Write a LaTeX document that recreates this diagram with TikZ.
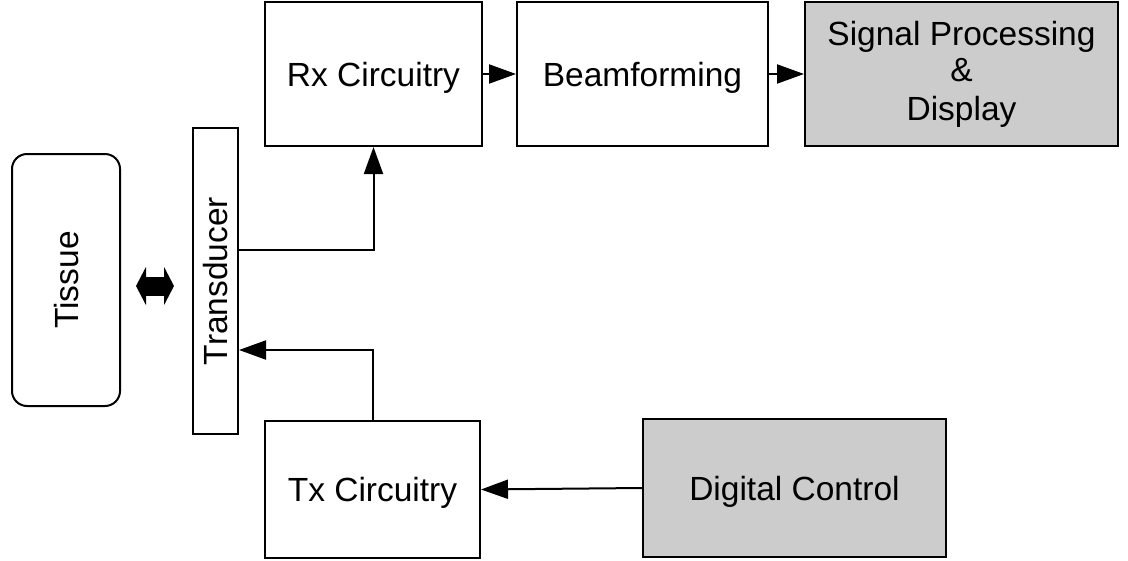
\documentclass[tikz,border=0pt]{standalone}
\usepackage{fontspec}
\setmainfont{Liberation Sans}
\usetikzlibrary{arrows.meta}
\definecolor{boxgray}{RGB}{204,204,204}
\tikzset{
  box/.style={draw=black, line width=2pt, rectangle, inner sep=0pt, align=center,
    font=\fontsize{33.5}{39}\selectfont},
  oneline/.style={text height=24pt, text depth=0pt},
  graybox/.style={box, fill=boxgray},
  arr/.style={draw=black, line width=2pt, -{Triangle[length=27pt,width=19pt]}},
  dbl/.style={draw=black, line width=19pt, {Triangle[length=10pt,width=38pt]}-{Triangle[length=10pt,width=38pt]}}
}
\begin{document}
\begin{tikzpicture}[x=1pt,y=-1pt]
\useasboundingbox (0,0) rectangle (1128,560);
\node[box, oneline, rounded corners=15pt, minimum width=252pt, minimum height=108pt, rotate=90] (tissue) at (66,280) {Tissue};
\node[box, oneline, minimum width=306pt, minimum height=45pt, rotate=90] (trans) at (215.5,281) {Transducer};
\node[box, oneline, minimum width=217pt, minimum height=144pt] (rx) at (373.5,74) {Rx Circuitry};
\node[box, oneline, minimum width=251pt, minimum height=144pt] (beam) at (642.5,74) {Beamforming};
\node[graybox, minimum width=313pt, minimum height=144pt] (sig) at (961.5,74) {\raisebox{-3pt}{Signal Processing}\\\&\\Display};
\node[box, oneline, minimum width=215pt, minimum height=137pt] (tx) at (372.5,489.5) {Tx Circuitry};
\node[graybox, oneline, minimum width=303pt, minimum height=138pt] (dig) at (794.5,488) {Digital Control};

\draw[arr] (rx.east) -- (beam.west);
\draw[arr] (beam.east) -- (sig.west);
\draw[arr] ([yshift=31pt]trans.south) -| (rx.south);
\draw[arr] (tx.north) |- ([yshift=-69pt]trans.south);
\draw[arr] (dig.west) -- (tx.east);
\draw[dbl, shorten <=15pt, shorten >=18pt] ([yshift=-6pt]tissue.south) -- ([yshift=-5pt]trans.north);
\end{tikzpicture}
\end{document}
